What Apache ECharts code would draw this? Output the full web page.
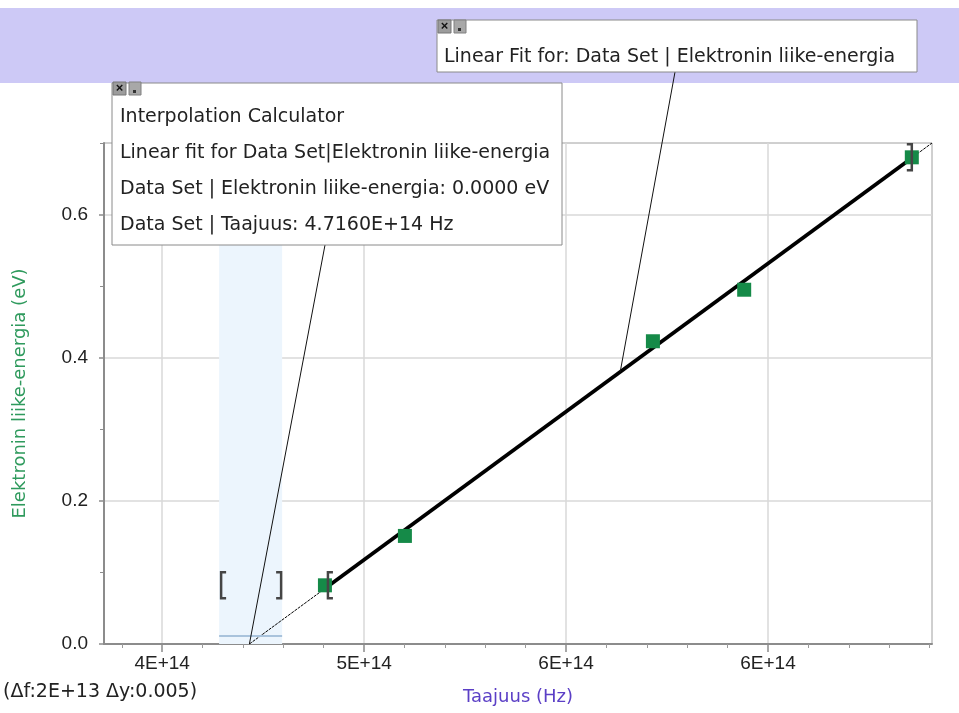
<!DOCTYPE html>
<html>
<head>
<meta charset="utf-8">
<title>Elektronin liike-energia vs Taajuus</title>
<script src="https://cdn.jsdelivr.net/npm/echarts@6/dist/echarts.min.js"></script>
<style>
html,body{margin:0;padding:0;background:#fff;}
#main{width:959px;height:713px;}
</style>
</head>
<body>
<div id="main"></div>
<script>
// mittauspisteet (Data Set)
var taajuus = [4.903e14, 5.101e14, 5.715e14, 5.941e14, 6.356e14];
var energia = [0.082, 0.151, 0.423, 0.495, 0.680];

// x-akseli: jaot ja tekstit (pyöristetty kuten Logger Pro näyttää)
var xMin = 4.356e14, xMax = 6.406e14;
var xTicks = [4.5e14, 5.0e14, 5.5e14, 6.0e14];
var xTickLabels = ['4E+14', '5E+14', '6E+14', '6E+14'];
var xMinorTicks = [4.4e14, 4.6e14, 4.7e14, 4.8e14, 4.9e14, 5.1e14, 5.2e14, 5.3e14, 5.4e14,
                   5.6e14, 5.7e14, 5.8e14, 5.9e14, 6.1e14, 6.2e14, 6.3e14, 6.4e14];

// y-akseli
var yTicks = [0, 0.2, 0.4, 0.6];
var yTickLabels = ['0.0', '0.2', '0.4', '0.6'];
var yMinorTicks = [0.1, 0.3, 0.5, 0.7];

// lineaarinen sovitus: koko viiva ja sovitusväli
var fitLong = [[4.716e14, 0], [6.406e14, 0.700]];
var fitShort = [[4.903e14, 0.0775], [6.356e14, 0.679]];
var fitAnchor = [5.634e14, 0.380];

// interpolointilaskin
var interpBand = [4.641e14, 4.797e14];
var interpLineY = 0.011;
var interpPoint = [4.716e14, 0];

var TICKFONT = 'Liberation Sans';
var FONT = 'DejaVu Sans';

function nearestLabel(v, ticks, labels) {
    var best = 0;
    for (var i = 1; i < ticks.length; i++) {
        if (Math.abs(ticks[i] - v) < Math.abs(ticks[best] - v)) best = i;
    }
    return labels[best];
}

var points = taajuus.map(function (f, i) { return [f, energia[i]]; });

var option = {
    animation: false,
    grid: {
        left: 104, right: 27, top: 143, bottom: 69,
        show: true, borderColor: '#a0a0a0', borderWidth: 1
    },
    xAxis: [{
        type: 'value', min: xMin, max: xMax, position: 'bottom',
        name: 'Taajuus (Hz)', nameLocation: 'middle', nameGap: 44,
        nameTextStyle: { color: '#5b3fc6', fontSize: 18, fontFamily: FONT },
        axisLine: { show: true, onZero: false, lineStyle: { color: '#8c8c8c', width: 2 } },
        axisTick: { show: true, customValues: xTicks, length: 8, lineStyle: { color: '#8c8c8c', width: 1.5 } },
        axisLabel: {
            customValues: xTicks, margin: 10, color: '#222', fontSize: 19, fontFamily: TICKFONT,
            formatter: function (v) { return nearestLabel(v, xTicks, xTickLabels); }
        },
        splitLine: { show: true, lineStyle: { color: '#d8d8d8', width: 1.5 } }
    }, {
        type: 'value', min: xMin, max: xMax, position: 'bottom',
        axisLine: { show: false },
        axisTick: { show: true, customValues: xMinorTicks, length: 4, lineStyle: { color: '#9a9a9a' } },
        axisLabel: { show: false },
        splitLine: { show: false }
    }],
    yAxis: [{
        type: 'value', min: 0, max: 0.7, position: 'left',
        name: 'Elektronin liike-energia (eV)', nameLocation: 'middle', nameGap: 75,
        nameTextStyle: { color: '#2f9a5d', fontSize: 18, fontFamily: FONT },
        axisLine: { show: true, onZero: false, lineStyle: { color: '#8c8c8c', width: 2 } },
        axisTick: { show: true, customValues: yTicks, length: 5, lineStyle: { color: '#8c8c8c', width: 1.5 } },
        axisLabel: {
            customValues: yTicks, margin: 16, color: '#222', fontSize: 19, fontFamily: TICKFONT,
            formatter: function (v) { return nearestLabel(v, yTicks, yTickLabels); }
        },
        splitLine: { show: true, lineStyle: { color: '#d8d8d8', width: 1.5 } }
    }, {
        type: 'value', min: 0, max: 0.7, position: 'left',
        axisLine: { show: false },
        axisTick: { show: true, customValues: yMinorTicks, length: 4, lineStyle: { color: '#8c8c8c' } },
        axisLabel: { show: false },
        splitLine: { show: false }
    }],
    series: [{
        // interpoloinnin alue
        type: 'line', data: [], silent: true,
        markArea: {
            silent: true,
            itemStyle: { color: '#ecf5fd' },
            data: [[{ xAxis: interpBand[0] }, { xAxis: interpBand[1] }]]
        },
        markLine: {
            silent: true, symbol: 'none', label: { show: false },
            lineStyle: { color: '#a9c3dc', width: 2, type: 'solid' },
            data: [[{ coord: [interpBand[0], interpLineY] }, { coord: [interpBand[1], interpLineY] }]]
        }
    }, {
        // sovitussuora, ohut jatke
        type: 'line', data: fitLong, symbol: 'none', silent: true, z: 3,
        lineStyle: { color: '#000', width: 1, type: [3, 1] }
    }, {
        // sovitussuora, sovitusväli
        type: 'line', data: fitShort, symbol: 'none', silent: true, z: 4,
        lineStyle: { color: '#000', width: 3.8 }
    }, {
        type: 'scatter', data: points, symbol: 'rect', symbolSize: 14, z: 5,
        itemStyle: { color: '#158a48', opacity: 1 }
    }]
};

var chart = echarts.init(document.getElementById('main'));
chart.setOption(option);

// huomautukset, hakasulkeet ja laatikot
function px(p) { return chart.convertToPixel({ gridIndex: 0 }, p); }

function bracket(x, y, dir) {
    return {
        type: 'polyline', z: 20, silent: true,
        shape: { points: [[x + 5 * dir, y - 13], [x, y - 13], [x, y + 13], [x + 5 * dir, y + 13]] },
        style: { stroke: '#454545', lineWidth: 2.5, fill: null }
    };
}

function icons(x, y) {
    return [
        { type: 'rect', z: 60, shape: { x: x, y: y, width: 13, height: 13 }, style: { fill: '#9c9c9c', stroke: '#777' } },
        { type: 'text', z: 61, x: x + 6.5, y: y + 6.5, style: { text: '×', fill: '#111', align: 'center', verticalAlign: 'middle', font: 'bold 13px ' + TICKFONT } },
        { type: 'rect', z: 60, shape: { x: x + 16, y: y, width: 12, height: 13 }, style: { fill: '#a8a8a8', stroke: '#808080' } },
        { type: 'rect', z: 61, shape: { x: x + 20, y: y + 8, width: 3, height: 3 }, style: { fill: '#333' } }
    ];
}

function textLine(x, y, t, z) {
    return { type: 'text', z: z, x: x, y: y, style: { text: t, font: '19px ' + FONT, fill: '#222', verticalAlign: 'middle' } };
}

var p1 = px(points[0]);
var pN = px(points[points.length - 1]);
var b0 = px([interpBand[0], energia[0]]);
var b1 = px([interpBand[1], energia[0]]);
var ip = px(interpPoint);
var fa = px(fitAnchor);

var g = [
    { type: 'rect', z: -10, shape: { x: 0, y: 8, width: 959, height: 75 }, style: { fill: '#cdc9f6' } },
    { type: 'text', z: 10, x: 3, y: 692, style: { text: '(Δf:2E+13 Δy:0.005)', font: '19px ' + FONT, fill: '#222', verticalAlign: 'middle' } },
    // johtoviivat
    { type: 'line', z: 15, silent: true, shape: { x1: 325, y1: 245, x2: ip[0], y2: ip[1] }, style: { stroke: '#111', lineWidth: 1 } },
    { type: 'line', z: 15, silent: true, shape: { x1: 675, y1: 72, x2: fa[0], y2: fa[1] }, style: { stroke: '#111', lineWidth: 1 } },
    bracket(p1[0] + 3, p1[1], 1),
    bracket(pN[0], pN[1], -1),
    bracket(b0[0] + 2, b0[1], 1),
    bracket(b1[0] - 1, b1[1], -1),
    // Linear fit -laatikko
    { type: 'rect', z: 50, shape: { x: 437, y: 20, width: 480, height: 52 }, style: { fill: '#fff', stroke: '#8a8a8a', lineWidth: 1 } },
    textLine(444, 57, 'Linear Fit for: Data Set | Elektronin liike-energia', 51),
    // Interpolation Calculator -laatikko
    { type: 'rect', z: 50, shape: { x: 112, y: 83, width: 450, height: 162 }, style: { fill: '#fff', stroke: '#8a8a8a', lineWidth: 1 } },
    textLine(120, 117, 'Interpolation Calculator', 51),
    textLine(120, 153, 'Linear fit for Data Set|Elektronin liike-energia', 51),
    textLine(120, 189, 'Data Set | Elektronin liike-energia: 0.0000 eV', 51),
    textLine(120, 225, 'Data Set | Taajuus: 4.7160E+14 Hz', 51)
].concat(icons(438, 20)).concat(icons(113, 82));

chart.setOption({ graphic: g });
</script>
</body>
</html>
